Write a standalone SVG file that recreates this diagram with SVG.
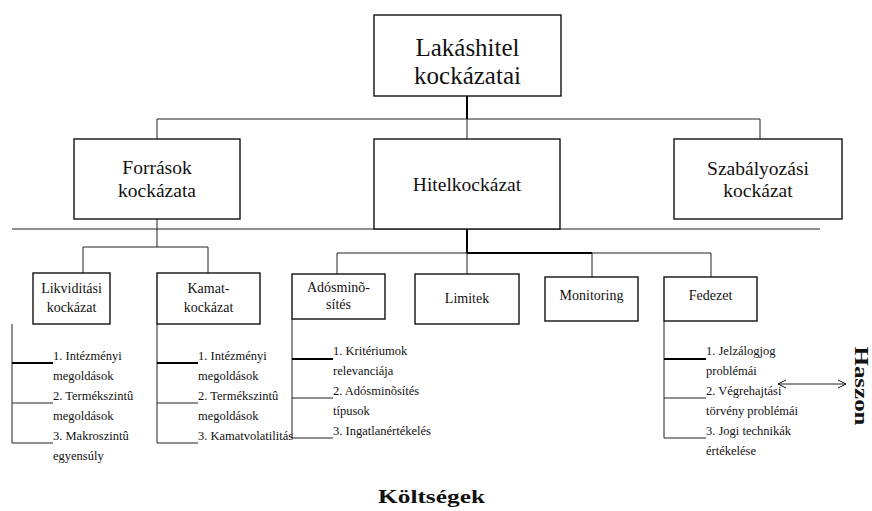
<svg xmlns="http://www.w3.org/2000/svg" width="872" height="511" viewBox="0 0 872 511" font-family="'Liberation Serif', 'Times New Roman', 'DejaVu Serif', serif">
<style>
.box{fill:#fff;stroke:#111;stroke-width:1.4}
.ln{stroke:#222;stroke-width:1;fill:none}
.th{stroke:#000;stroke-width:2;fill:none}
text{font-family:'Liberation Serif','Times New Roman',serif;fill:#111}
.big{font-size:25px;text-anchor:middle}
.mid{font-size:19.5px;text-anchor:middle}
.sm{font-size:14px;text-anchor:middle}
.li{font-size:12.5px}
.bold{font-size:18px;font-weight:bold;text-anchor:middle}
</style>
<defs>
<marker id="ah" markerWidth="10" markerHeight="10" refX="9" refY="5" orient="auto-start-reverse" markerUnits="userSpaceOnUse">
<path d="M1,1 L9,5 L1,9" fill="none" stroke="#111" stroke-width="1"/>
</marker>
</defs>
<rect width="872" height="511" fill="#fff"/>
<g id="connectors">
<line class="th" x1="467" y1="96" x2="467" y2="119"/>
<line class="ln" x1="157" y1="119" x2="760" y2="119"/>
<line class="ln" x1="157" y1="119" x2="157" y2="139"/>
<line class="ln" x1="467" y1="119" x2="467" y2="139"/>
<line class="ln" x1="760" y1="119" x2="760" y2="139"/>
<line class="ln" x1="12" y1="229" x2="820" y2="229"/>
<line class="ln" x1="157" y1="219" x2="157" y2="247"/>
<line class="ln" x1="83" y1="247" x2="208" y2="247"/>
<line class="ln" x1="83" y1="247" x2="83" y2="273"/>
<line class="ln" x1="208" y1="247" x2="208" y2="273"/>
<line class="th" x1="467" y1="229" x2="467" y2="253"/>
<line class="ln" x1="337" y1="253" x2="711" y2="253"/>
<line class="th" x1="467" y1="253" x2="592" y2="253"/>
<line class="ln" x1="337" y1="253" x2="337" y2="274"/>
<line class="ln" x1="467" y1="253" x2="467" y2="274"/>
<line class="ln" x1="592" y1="253" x2="592" y2="277"/>
<line class="ln" x1="711" y1="253" x2="711" y2="277"/>
<line class="ln" x1="12" y1="324" x2="12" y2="443"/>
<line class="th" x1="12" y1="363" x2="53" y2="363"/>
<line class="ln" x1="12" y1="403" x2="53" y2="403"/>
<line class="ln" x1="12" y1="443" x2="53" y2="443"/>
<line class="ln" x1="157" y1="324" x2="157" y2="443"/>
<line class="th" x1="157" y1="363" x2="198" y2="363"/>
<line class="ln" x1="157" y1="403" x2="198" y2="403"/>
<line class="ln" x1="157" y1="443" x2="198" y2="443"/>
<line class="ln" x1="292" y1="319" x2="292" y2="438"/>
<line class="th" x1="292" y1="359" x2="333" y2="359"/>
<line class="ln" x1="292" y1="398" x2="333" y2="398"/>
<line class="ln" x1="292" y1="438" x2="333" y2="438"/>
<line class="ln" x1="664" y1="321" x2="664" y2="438"/>
<line class="th" x1="664" y1="359" x2="706" y2="359"/>
<line class="ln" x1="664" y1="398" x2="706" y2="398"/>
<line class="ln" x1="664" y1="438" x2="706" y2="438"/>
<line class="ln" x1="778" y1="384" x2="846" y2="384" marker-start="url(#ah)" marker-end="url(#ah)"/>
</g>
<g id="root"><rect class="box" x="374" y="15" width="187" height="81"/><text class="big" x="467.5" y="56">Lakáshitel</text><text class="big" x="467.5" y="84">kockázatai</text></g>
<g id="forrasok"><rect class="box" x="74" y="139" width="166" height="80"/><text class="mid" x="157" y="174">Források</text><text class="mid" x="157" y="197">kockázata</text></g>
<g id="hitel"><rect class="box" x="374" y="139" width="186" height="90"/><text class="mid" x="467" y="191">Hitelkockázat</text></g>
<g id="szabaly"><rect class="box" x="674" y="139" width="168" height="80"/><text class="mid" x="758" y="175">Szabályozási</text><text class="mid" x="758" y="197">kockázat</text></g>
<g id="likvid"><rect class="box" x="33" y="273" width="77" height="51"/><text class="sm" x="71.5" y="293">Likviditási</text><text class="sm" x="71.5" y="312">kockázat</text></g>
<g id="kamat"><rect class="box" x="157" y="273" width="103" height="51"/><text class="sm" x="208.5" y="293">Kamat-</text><text class="sm" x="208.5" y="312">kockázat</text></g>
<g id="adosminosites"><rect class="box" x="292" y="274" width="93" height="45"/><text class="sm" x="338.5" y="292">Adósminõ-</text><text class="sm" x="338.5" y="309">sítés</text></g>
<g id="limitek"><rect class="box" x="415" y="274" width="104" height="50"/><text class="sm" x="467" y="303">Limitek</text></g>
<g id="monitoring"><rect class="box" x="545" y="277" width="93" height="44"/><text class="sm" x="591.5" y="300">Monitoring</text></g>
<g id="fedezet"><rect class="box" x="664" y="277" width="93" height="44"/><text class="sm" x="710.5" y="300">Fedezet</text></g>
<g id="list-likvid">
<text class="li" x="53" y="360">1. Intézményi</text><text class="li" x="53" y="380">megoldások</text><text class="li" x="53" y="400">2. Termékszintû</text><text class="li" x="53" y="420">megoldások</text><text class="li" x="53" y="440">3. Makroszintû</text><text class="li" x="53" y="460">egyensúly</text>
</g>
<g id="list-kamat">
<text class="li" x="198" y="360">1. Intézményi</text><text class="li" x="198" y="380">megoldások</text><text class="li" x="198" y="400">2. Termékszintû</text><text class="li" x="198" y="420">megoldások</text><text class="li" x="198" y="440">3. Kamatvolatilitás</text>
</g>
<g id="list-ados">
<text class="li" x="333" y="355">1. Kritériumok</text><text class="li" x="333" y="375">relevanciája</text><text class="li" x="333" y="395">2. Adósminõsítés</text><text class="li" x="333" y="415">típusok</text><text class="li" x="333" y="435">3. Ingatlanértékelés</text>
</g>
<g id="list-fedezet">
<text class="li" x="706" y="355">1. Jelzálogjog</text><text class="li" x="706" y="375">problémái</text><text class="li" x="706" y="395">2. Végrehajtási</text><text class="li" x="706" y="415">törvény problémái</text><text class="li" x="706" y="435">3. Jogi technikák</text><text class="li" x="706" y="455">értékelése</text>
</g>
<g id="haszon"><text class="bold" transform="translate(855,386) rotate(90)" x="0" y="0" textLength="79" lengthAdjust="spacingAndGlyphs">Haszon</text></g>
<g id="koltsegek"><text class="bold" x="431.5" y="503" textLength="107" lengthAdjust="spacingAndGlyphs">Költségek</text></g>
</svg>
